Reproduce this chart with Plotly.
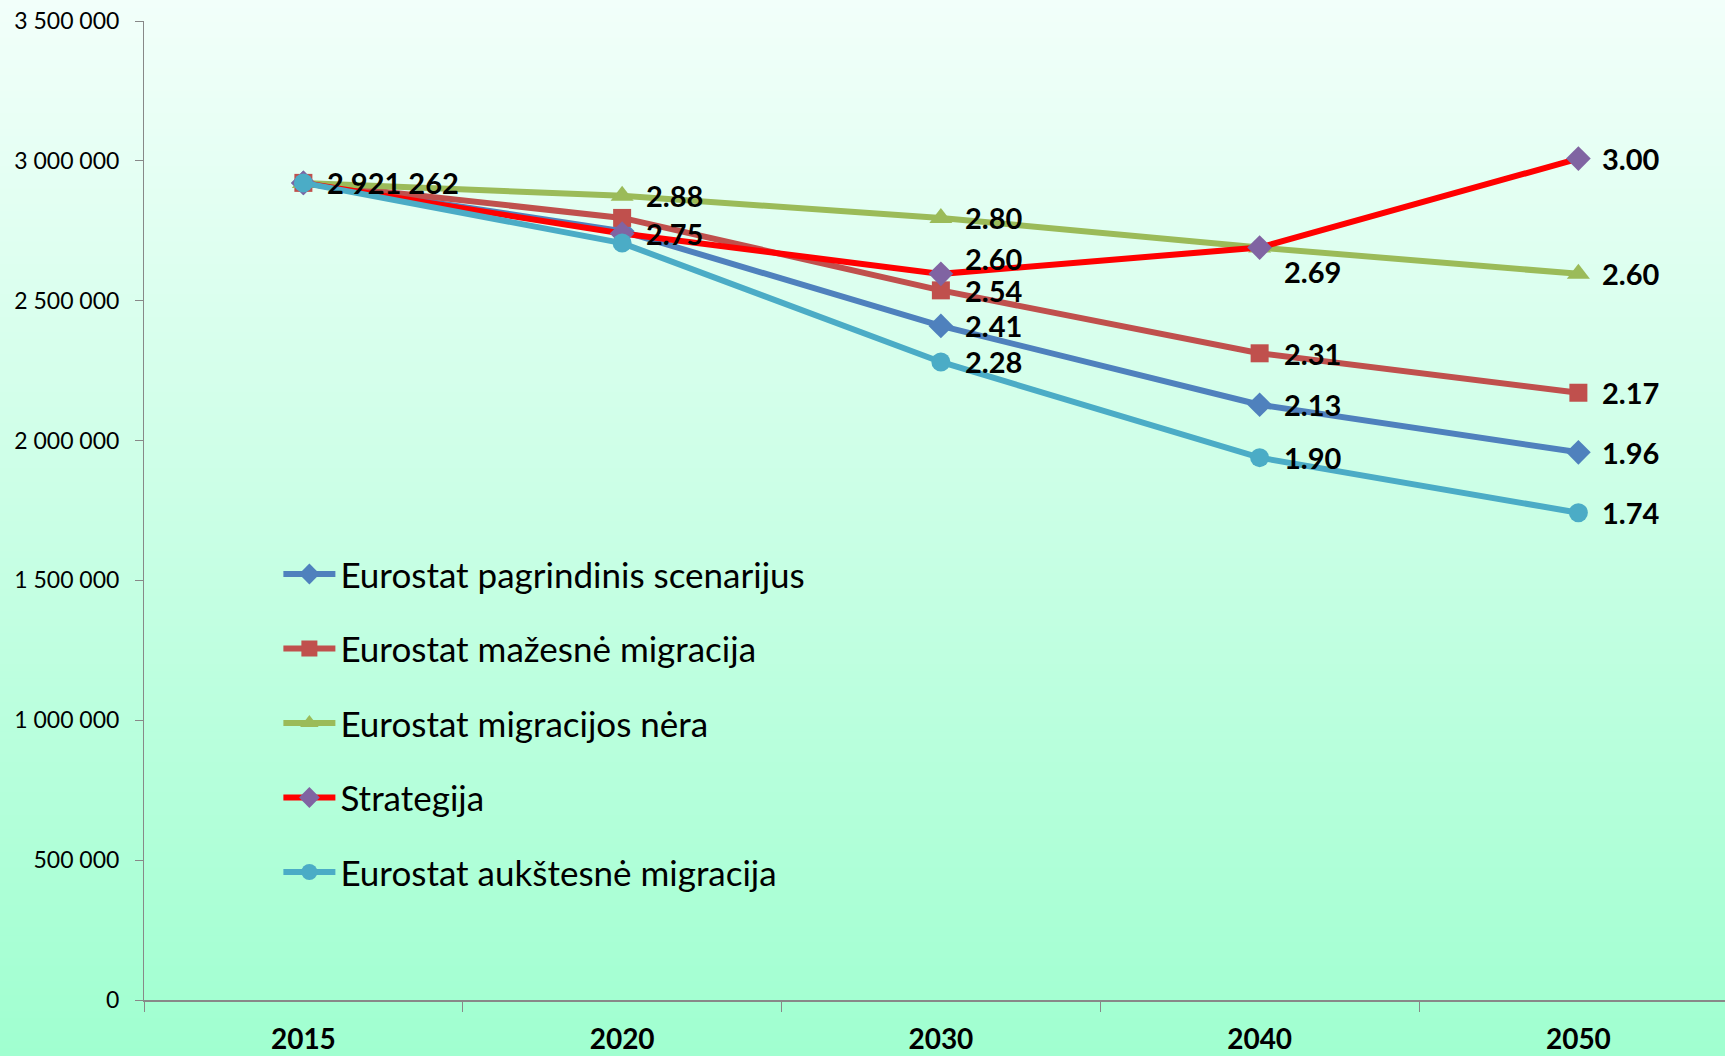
import plotly.graph_objects as go

# ---------------- data ----------------
years = ["2015", "2020", "2030", "2040", "2050"]

series_names = [
    "Eurostat pagrindinis scenarijus",
    "Eurostat mažesnė migracija",
    "Eurostat migracijos nėra",
    "Strategija",
    "Eurostat aukštesnė migracija",
]

pagrindinis = [2921262, 2749000, 2410000, 2128000, 1958000]
mazesne = [2921262, 2796000, 2537000, 2312000, 2171000]
nera = [2921262, 2875000, 2796000, 2690000, 2596000]
strategija = [2921262, 2740000, 2596000, 2690000, 3008000]
auksteesne = [2921262, 2706000, 2281000, 1939000, 1742000]

pagrindinis_labels = ["", "", "2.41", "2.13", "1.96"]
mazesne_labels = ["", "", "2.54", "2.31", "2.17"]
nera_labels = ["", "2.88", "2.80", "", "2.60"]
strategija_labels = ["", "2.75", "2.60", "2.69", "3.00"]
auksteesne_labels = ["2 921 262", "", "2.28", "1.90", "1.74"]

y_tick_values = [0, 500000, 1000000, 1500000, 2000000, 2500000, 3000000, 3500000]

# ---------------- style ----------------
W, H = 1725, 1056
ML, MR, MT, MB = 144, 0, 21, 56
FONT = "Lato"

styles = [
    dict(line="#4F81BD", marker="#4F81BD", symbol="diamond", size=19),
    dict(line="#C0504D", marker="#C0504D", symbol="square", size=18),
    dict(line="#9BBB59", marker="#9BBB59", symbol="triangle-up", size=20),
    dict(line="#FF0000", marker="#8064A2", symbol="diamond", size=19),
    dict(line="#4BACC6", marker="#4BACC6", symbol="circle", size=19),
]
# label placement per series point: (xshift, yshift)
label_shift = [
    [(0, 0)] * 5,
    [(0, 0)] * 5,
    [(0, 0)] * 5,
    [(0, 0), (0, 0), (0, 15), (0, -24), (0, 0)],
    [(0, 0)] * 5,
]

all_values = [pagrindinis, mazesne, nera, strategija, auksteesne]
all_labels = [pagrindinis_labels, mazesne_labels, nera_labels, strategija_labels, auksteesne_labels]

fig = go.Figure()

# background vertical gradient via stripes
n = 140
top = (242, 255, 250)
bot = (160, 255, 208)
y_bot = -MB / (H - MT - MB)
y_top = 1 + MT / (H - MT - MB)
x_left = -ML / (W - ML - MR)
for i in range(n):
    t = i / (n - 1)
    c = tuple(round(top[k] + (bot[k] - top[k]) * t) for k in range(3))
    y1 = y_top - (y_top - y_bot) * i / n
    y0 = y_top - (y_top - y_bot) * (i + 1) / n
    fig.add_shape(type="rect", xref="paper", yref="paper", x0=x_left - 0.01, x1=1.01,
                  y0=y0 - 0.001 - (0.01 if i == n - 1 else 0), y1=y1 + (0.01 if i == 0 else 0),
                  fillcolor="rgb(%d,%d,%d)" % c, line=dict(width=0), layer="below")

for i, (name, vals, st) in enumerate(zip(series_names, all_values, styles)):
    fig.add_trace(go.Scatter(
        x=years, y=vals, name=name, mode="lines+markers",
        line=dict(color=st["line"], width=6),
        marker=dict(color=st["marker"], symbol=st["symbol"], size=st["size"]),
        legendgroup=str(i),
    ))

for vals, labels, shifts in zip(all_values, all_labels, label_shift):
    for xi, (v, lab, (dx, dy)) in enumerate(zip(vals, labels, shifts)):
        if lab:
            fig.add_annotation(x=xi, y=v, xref="x", yref="y", text="<b>%s</b>" % lab,
                               showarrow=False, xanchor="left", yanchor="middle",
                               xshift=22 + dx, yshift=dy,
                               font=dict(family=FONT, size=29, color="black"))

fig.update_layout(
    width=W, height=H,
    margin=dict(l=ML, r=MR, t=MT, b=MB),
    paper_bgcolor="#c8ffe4",
    plot_bgcolor="rgba(0,0,0,0)",
    separators=". ",
    font=dict(family=FONT, color="black"),
    showlegend=True,
    legend=dict(x=0.085, y=0.465, xanchor="left", yanchor="top",
                bgcolor="rgba(0,0,0,0)", font=dict(family=FONT, size=35),
                tracegroupgap=26, itemwidth=52),
)
fig.update_xaxes(
    type="category", range=[-0.5, 4.46], tickson="boundaries", automargin=False,
    ticks="outside", ticklen=10, tickcolor="#888888", tickwidth=1,
    showline=True, linecolor="#888888", linewidth=2, showgrid=False,
    tickfont=dict(family=FONT, size=28, color="black"), ticklabelstandoff=13,
    tickprefix="<b>", ticksuffix="</b>",
)
fig.update_yaxes(
    range=[0, 3500000], tickvals=y_tick_values, tickformat=",d", automargin=False,
    ticks="outside", ticklen=8, tickcolor="#888888", tickwidth=1,
    showline=True, linecolor="#888888", linewidth=1, showgrid=False, zeroline=False,
    tickfont=dict(family=FONT, size=23, color="black"), ticklabelstandoff=11,
)

fig.write_html("out.html", config={"displayModeBar": False},
               post_script="document.body.style.margin='0';document.body.style.overflow='hidden';")
